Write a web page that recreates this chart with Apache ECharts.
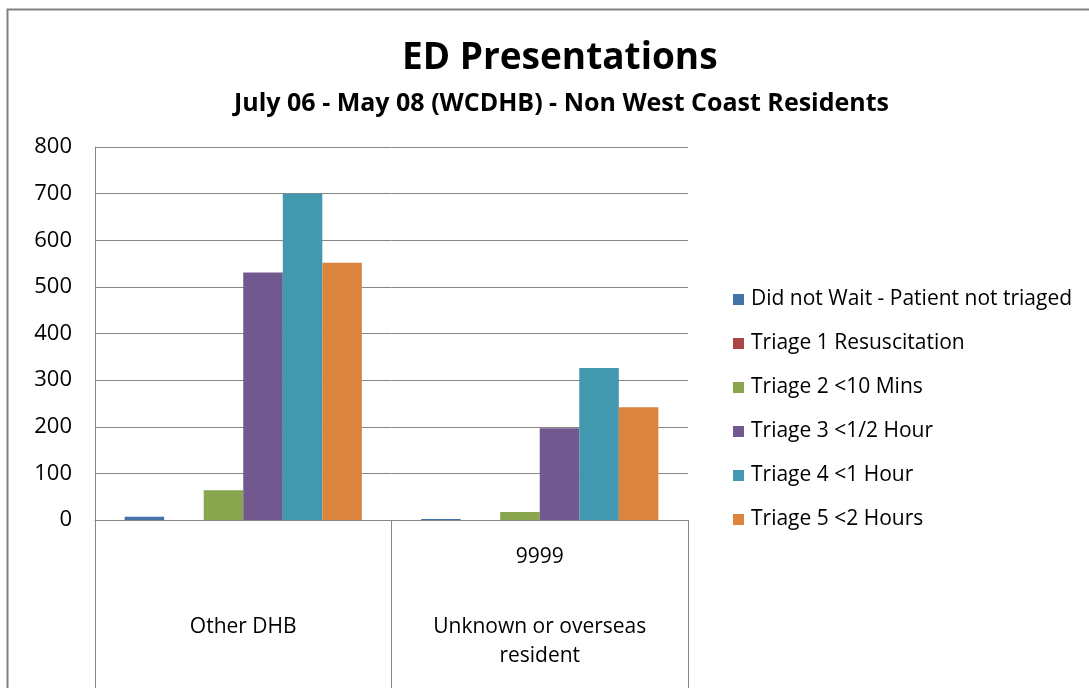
<!DOCTYPE html>
<html>
<head>
<meta charset="utf-8">
<script src="https://cdn.jsdelivr.net/npm/echarts@6/dist/echarts.min.js"></script>
<style>
  html, body { margin: 0; padding: 0; background: #fff; }
  #chart { width: 1089px; height: 688px; }
</style>
</head>
<body>
<div id="chart"></div>
<script>
// 类别及数据
var categories = ['Other DHB', 'Unknown or overseas\nresident'];
var codes = ['', '9999'];
var seriesNames = [
  'Did not Wait - Patient not triaged',
  'Triage 1 Resuscitation',
  'Triage 2 <10 Mins',
  'Triage 3 <1/2 Hour',
  'Triage 4 <1 Hour',
  'Triage 5 <2 Hours'
];
var didNotWait = [7, 2];
var triage1 = [0, -3];
var triage2 = [64, 17];
var triage3 = [531, 197];
var triage4 = [700, 326];
var triage5 = [552, 242];
var yTicks = [0, 100, 200, 300, 400, 500, 600, 700, 800];

var colors = ['#4572a7', '#aa4643', '#89a54e', '#71588f', '#4198af', '#db843d'];
var FONT = '"Open Sans", "Liberation Sans", sans-serif';

var seriesData = [didNotWait, triage1, triage2, triage3, triage4, triage5];

var chart = echarts.init(document.getElementById('chart'));

var option = {
  backgroundColor: '#fff',
  animation: false,
  graphic: [{
    type: 'rect',
    shape: { x: 7.5, y: 9.5, width: 1200, height: 800 },
    style: { fill: 'none', stroke: '#808080', lineWidth: 2 },
    silent: true
  }],
  title: [{
    text: 'ED Presentations',
    left: 397,
    top: 35,
    textStyle: { fontFamily: FONT, fontSize: 37, fontWeight: 'bold', color: '#000' }
  }, {
    text: 'July 06 - May 08 (WCDHB) - Non West Coast Residents',
    left: 229,
    top: 86,
    textStyle: { fontFamily: FONT, fontSize: 25, fontWeight: 'bold', color: '#000' }
  }],
  legend: {
    orient: 'vertical',
    left: 728,
    top: 284,
    itemWidth: 11,
    itemHeight: 11,
    itemGap: 23,
    icon: 'rect',
    textStyle: { fontFamily: FONT, fontSize: 21, color: '#000', padding: [0, 0, 0, 2] },
    data: seriesNames
  },
  grid: { left: 95, right: 401, top: 147, bottom: 168 },
  xAxis: [{
    type: 'category',
    data: codes,
    position: 'bottom',
    axisLine: { lineStyle: { color: '#868686', width: 1 } },
    axisTick: { show: true, length: 168, lineStyle: { color: '#868686' } },
    axisLabel: { margin: 27, fontFamily: FONT, fontSize: 21, color: '#000' }
  }, {
    type: 'category',
    data: categories,
    position: 'bottom',
    offset: 85,
    axisLine: { show: false },
    axisTick: { show: false },
    axisLabel: { margin: 8, fontFamily: FONT, fontSize: 21, color: '#000', lineHeight: 29, verticalAlign: 'top' }
  }],
  yAxis: {
    type: 'value',
    min: yTicks[0],
    max: yTicks[yTicks.length - 1],
    interval: yTicks[1] - yTicks[0],
    axisLine: { show: true, lineStyle: { color: '#868686' } },
    axisTick: { show: false },
    axisLabel: { margin: 23, fontFamily: FONT, fontSize: 22, color: '#000' },
    splitLine: { lineStyle: { color: '#868686', width: 1 } }
  },
  series: seriesNames.map(function (name, i) {
    return {
      name: name,
      type: 'bar',
      xAxisIndex: 0,
      data: seriesData[i],
      barGap: '0%',
      barCategoryGap: '20%',
      itemStyle: { color: colors[i] }
    };
  })
};

chart.setOption(option);
</script>
</body>
</html>
